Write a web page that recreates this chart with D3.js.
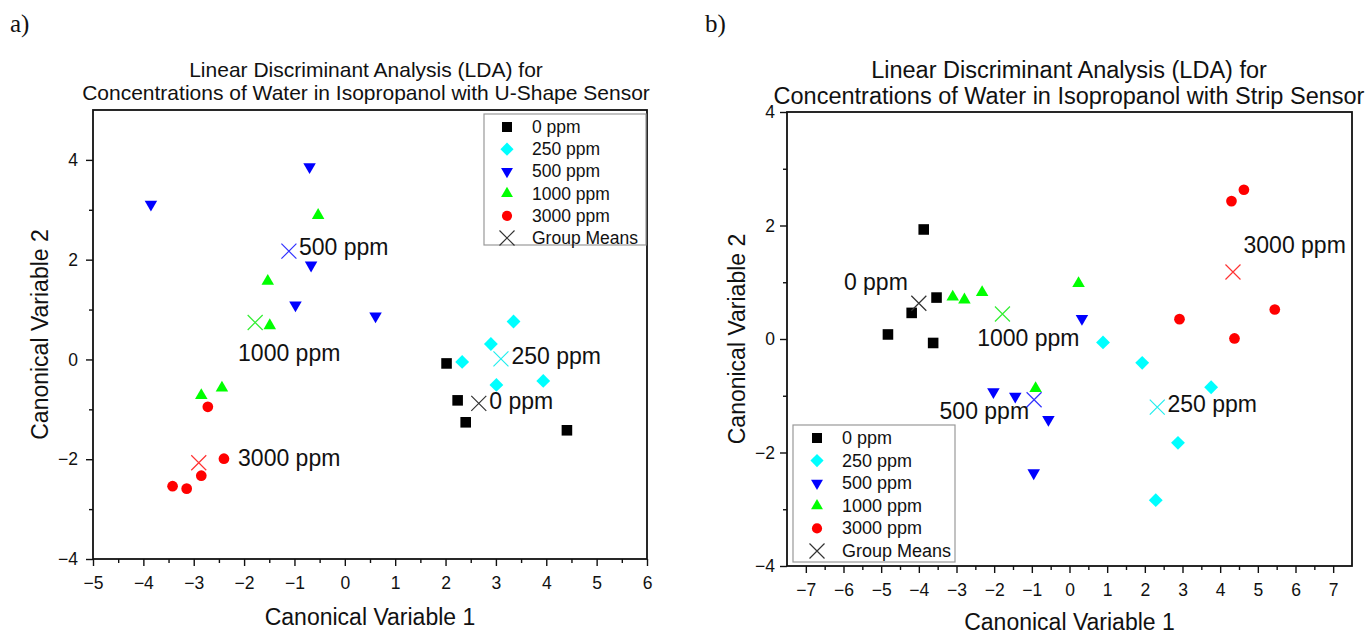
<!DOCTYPE html>
<html>
<head>
<meta charset="utf-8">
<script src="https://cdn.jsdelivr.net/npm/d3@7"></script>
<style>
  body { margin: 0; background: #fff; }
  svg text { font-family: "Liberation Sans", Arial, sans-serif; fill: #111; }
</style>
</head>
<body>
<svg id="fig" width="1370" height="636"></svg>
<script>
const groups = ["0 ppm", "250 ppm", "500 ppm", "1000 ppm", "3000 ppm"];
const groupColors = ["#000000", "#00ffff", "#0000ff", "#00ff00", "#ff0000"];
const meanColors = ["#333333", "#22eeee", "#3333ff", "#33ee33", "#ff3333"];

// U-shape sensor, [CV1, CV2] per sample
const u0 = [[2.02, -0.08], [2.24, -0.82], [2.40, -1.26], [4.41, -1.42]];
const u250 = [[2.33, -0.05], [2.90, 0.31], [3.35, 0.76], [3.01, -0.51], [3.94, -0.43]];
const u500 = [[-3.85, 3.11], [-0.70, 3.86], [-0.67, 1.89], [-0.98, 1.09], [0.61, 0.87]];
const u1000 = [[-0.53, 2.89], [-1.53, 1.57], [-1.49, 0.68], [-2.85, -0.72], [-2.44, -0.57]];
const u3000 = [[-2.72, -0.95], [-2.40, -1.99], [-2.85, -2.33], [-3.42, -2.54], [-3.14, -2.59]];
const uMeans = [[2.66, -0.88], [3.10, 0.01], [-1.11, 2.17], [-1.78, 0.74], [-2.90, -2.07]];
const uLabels = [[2.87, -1.00], [3.31, -0.09], [-0.91, 2.09], [-2.12, -0.03], [-2.12, -2.14]];

// strip sensor
const s0 = [[-3.87, 1.93], [-3.53, 0.73], [-4.19, 0.46], [-4.82, 0.08], [-3.62, -0.07]];
const s250 = [[0.89, -0.06], [1.93, -0.42], [3.76, -0.85], [2.88, -1.83], [2.29, -2.84]];
const s500 = [[0.33, 0.36], [-2.02, -0.93], [-1.44, -1.01], [-0.56, -1.42], [-0.95, -2.36]];
const s1000 = [[-3.10, 0.74], [-2.79, 0.69], [-2.32, 0.82], [0.24, 0.98], [-0.90, -0.87]];
const s3000 = [[4.30, 2.43], [4.63, 2.63], [2.92, 0.35], [4.38, 0.01], [5.45, 0.52]];
const sMeans = [[-4.00, 0.63], [2.33, -1.20], [-0.94, -1.07], [-1.78, 0.44], [4.34, 1.18]];
const sLabels = [[-5.99, 0.87], [2.60, -1.29], [-3.45, -1.41], [-2.45, -0.12], [4.62, 1.52]];

const titleLine1 = "Linear Discriminant Analysis (LDA) for";
const xTitle = "Canonical Variable 1";
const yTitle = "Canonical Variable 2";

const svg = d3.select("#fig");

// marker shapes
function markerPath(i) {
  if (i === 0) return d3.symbol(d3.symbolSquare, 112)();
  if (i === 1) return d3.symbol(d3.symbolSquare, 96)();
  if (i === 2 || i === 3) return d3.symbol(d3.symbolTriangle, 68)();
  return d3.symbol(d3.symbolCircle, 90)();
}
function markerRotate(i) {
  if (i === 1) return 45;
  if (i === 2) return 180;
  return 0;
}
function xMark(h) {
  const p = d3.path();
  p.moveTo(-h, -h); p.lineTo(h, h);
  p.moveTo(-h, h); p.lineTo(h, -h);
  return p.toString();
}

function drawChart(cfg) {
  const g = svg.append("g");
  const x = d3.scaleLinear().domain(cfg.xDomain).range([cfg.left, cfg.right]);
  const y = d3.scaleLinear().domain(cfg.yDomain).range([cfg.bottom, cfg.top]);

  // titles
  g.append("text").attr("x", cfg.titleX).attr("y", cfg.titleY)
    .attr("text-anchor", "middle").style("font-size", cfg.titleSize + "px").text(titleLine1);
  g.append("text").attr("x", cfg.titleX).attr("y", cfg.titleY + cfg.titleGap)
    .attr("text-anchor", "middle").style("font-size", cfg.titleSize + "px").text(cfg.title2);

  // panel label
  g.append("text").attr("x", cfg.panelX).attr("y", 32)
    .style("font-family", "'Liberation Serif', 'Times New Roman', serif")
    .style("font-size", "25px").text(cfg.panel);

  // x axis
  const xMajor = d3.range(Math.ceil(cfg.xDomain[0]), Math.floor(cfg.xDomain[1]) + 1);
  const xMinor = xMajor.slice(0, -1).map(d => d + 0.5);
  g.append("g").attr("transform", `translate(0,${cfg.bottom})`)
    .call(d3.axisBottom(x).tickValues(xMinor).tickSize(4).tickFormat(""))
    .call(a => a.select(".domain").remove());
  g.append("g").attr("transform", `translate(0,${cfg.bottom})`)
    .call(d3.axisBottom(x).tickValues(xMajor).tickSize(7).tickPadding(cfg.xPad).tickFormat(d3.format("d")))
    .call(a => a.select(".domain").remove())
    .call(a => a.selectAll("text").style("font-size", "17.5px"));

  // y axis
  const yMajor = cfg.yTicks;
  const yMinor = yMajor.slice(0, -1).map(d => d + 1);
  g.append("g").attr("transform", `translate(${cfg.left},0)`)
    .call(d3.axisLeft(y).tickValues(yMinor).tickSize(4).tickFormat(""))
    .call(a => a.select(".domain").remove());
  g.append("g").attr("transform", `translate(${cfg.left},0)`)
    .call(d3.axisLeft(y).tickValues(yMajor).tickSize(7).tickPadding(cfg.yPad).tickFormat(d3.format("d")))
    .call(a => a.select(".domain").remove())
    .call(a => a.selectAll("text").style("font-size", "17.5px"));
  g.selectAll(".tick line").attr("stroke", "#111").attr("stroke-width", 1.4);

  // frame
  g.append("rect").attr("x", cfg.left).attr("y", cfg.top)
    .attr("width", cfg.right - cfg.left).attr("height", cfg.bottom - cfg.top)
    .attr("fill", "none").attr("stroke", "#111").attr("stroke-width", 1.8);

  // axis titles
  g.append("text").attr("x", (cfg.left + cfg.right) / 2).attr("y", cfg.xTitleY)
    .attr("text-anchor", "middle").style("font-size", "23px").text(xTitle);
  g.append("text")
    .attr("transform", `translate(${cfg.yTitleX},${(cfg.top + cfg.bottom) / 2}) rotate(-90)`)
    .attr("text-anchor", "middle").style("font-size", "23px").text(yTitle);

  // points
  cfg.series.forEach((pts, i) => {
    g.append("g").selectAll("path").data(pts).enter().append("path")
      .attr("d", markerPath(i))
      .attr("transform", d => `translate(${x(d[0])},${y(d[1])}) rotate(${markerRotate(i)})`)
      .attr("fill", groupColors[i]);
  });

  // group means
  g.append("g").selectAll("path").data(cfg.means).enter().append("path")
    .attr("d", xMark(7.5))
    .attr("transform", d => `translate(${x(d[0])},${y(d[1])})`)
    .attr("fill", "none")
    .attr("stroke", (d, i) => meanColors[i]).attr("stroke-width", 1.2);

  // group labels
  g.append("g").selectAll("text").data(cfg.labels).enter().append("text")
    .attr("x", d => x(d[0])).attr("y", d => y(d[1]))
    .style("font-size", "23px").text((d, i) => groups[i]);

  // legend
  const lg = g.append("g").attr("transform", `translate(${cfg.legX},${cfg.legY})`);
  lg.append("rect").attr("width", cfg.legW).attr("height", cfg.legH)
    .attr("fill", "#fff").attr("stroke", "#999").attr("stroke-width", 1.2);
  const rowH = cfg.legRow;
  groups.forEach((name, i) => {
    const ry = 13 + i * rowH;
    lg.append("path")
      .attr("d", markerPath(i))
      .attr("transform", `translate(${cfg.legSym},${ry}) rotate(${markerRotate(i)}) scale(0.95)`)
      .attr("fill", groupColors[i]);
    lg.append("text").attr("x", cfg.legText).attr("y", ry + 6)
      .style("font-size", cfg.legFont + "px").text(name);
  });
  const ry = 13 + 5 * rowH;
  lg.append("path").attr("d", xMark(7.5)).attr("transform", `translate(${cfg.legSym},${ry})`)
    .attr("fill", "none").attr("stroke", "#333").attr("stroke-width", 1.2);
  lg.append("text").attr("x", cfg.legText).attr("y", ry + 6)
    .style("font-size", cfg.legFont + "px").text("Group Means");
}

drawChart({
  panel: "a)", panelX: 10,
  title2: "Concentrations of Water in Isopropanol with U-Shape Sensor",
  titleX: 366, titleY: 77, titleSize: 21, titleGap: 23,
  left: 93, right: 647, top: 110, bottom: 559,
  xDomain: [-5, 6], yDomain: [-4, 5], yTicks: [-4, -2, 0, 2, 4],
  xPad: 11, yPad: 8, xTitleY: 625, yTitleX: 48,
  series: [u0, u250, u500, u1000, u3000], means: uMeans, labels: uLabels,
  legX: 484, legY: 114, legW: 162, legH: 131, legRow: 22.2,
  legSym: 23, legText: 48, legFont: 17.5
});

drawChart({
  panel: "b)", panelX: 705,
  title2: "Concentrations of Water in Isopropanol with Strip Sensor",
  titleX: 1069, titleY: 78, titleSize: 23.5, titleGap: 26,
  left: 787, right: 1352, top: 112, bottom: 566,
  xDomain: [-7.5, 7.5], yDomain: [-4, 4], yTicks: [-4, -2, 0, 2, 4],
  xPad: 11, yPad: 5, xTitleY: 630, yTitleX: 745,
  series: [s0, s250, s500, s1000, s3000], means: sMeans, labels: sLabels,
  legX: 793, legY: 425, legW: 162, legH: 137, legRow: 22.6,
  legSym: 24, legText: 49, legFont: 18
});
</script>
</body>
</html>
